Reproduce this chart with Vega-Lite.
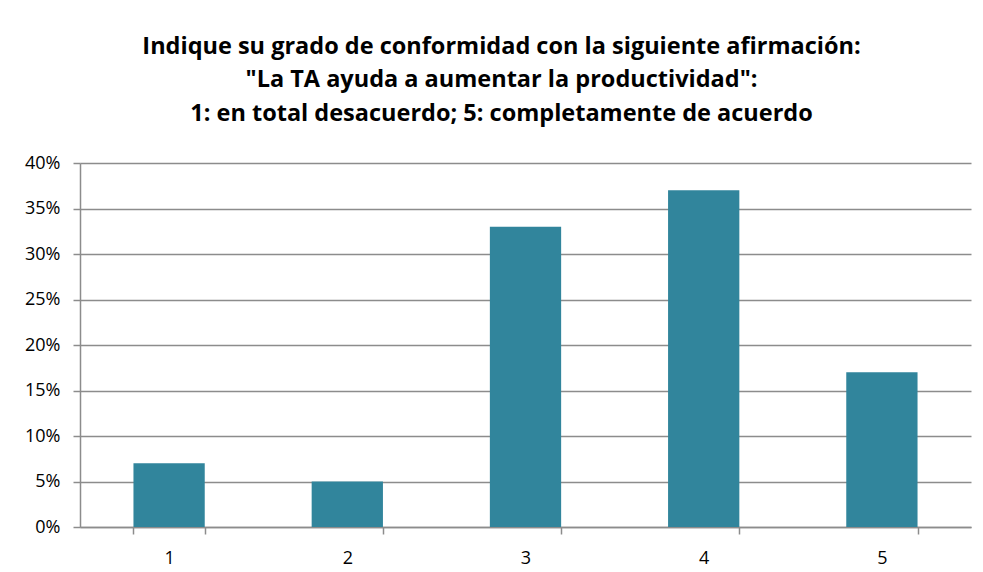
{
  "$schema": "https://vega.github.io/schema/vega-lite/v6.json",
  "autosize": {"type": "none"},
  "width": 891,
  "height": 364,
  "padding": {"left": 80, "top": 163, "right": 12, "bottom": 45},
  "background": "white",
  "title": {
    "text": ["Indique su grado de conformidad con la siguiente afirmación:", "\"La TA ayuda a aumentar la productividad\":", "1: en total desacuerdo; 5: completamente de acuerdo"],
    "font": "Open Sans",
    "fontSize": 23.5,
    "fontWeight": "bold",
    "color": "#000000",
    "lineHeight": 33.5,
    "anchor": "middle",
    "dx": -24,
    "offset": 29
  },
  "data": {
    "values": [
      {"cat": "1", "pct": 0.07},
      {"cat": "2", "pct": 0.05},
      {"cat": "3", "pct": 0.33},
      {"cat": "4", "pct": 0.37},
      {"cat": "5", "pct": 0.17}
    ]
  },
  "mark": {"type": "bar", "color": "#31859C"},
  "encoding": {
    "x": {
      "field": "cat",
      "type": "ordinal",
      "sort": null,
      "scale": {"paddingInner": 0.6, "paddingOuter": 0.3},
      "axis": {
        "title": null,
        "labelAngle": 0,
        "tickBand": "extent",
        "ticks": true,
        "tickSize": 7,
        "tickColor": "#8c8c8c",
        "tickWidth": 1.5,
        "domainColor": "#8c8c8c",
        "domainWidth": 1.5,
        "labelFont": "Open Sans",
        "labelFontSize": 18,
        "labelColor": "#000000",
        "labelPadding": 15,
        "grid": false
      }
    },
    "y": {
      "field": "pct",
      "type": "quantitative",
      "scale": {"domain": [0, 0.4], "nice": false},
      "axis": {
        "title": null,
        "format": ".0%",
        "values": [0, 0.05, 0.1, 0.15, 0.2, 0.25, 0.3, 0.35, 0.4],
        "tickSize": 7,
        "tickColor": "#8c8c8c",
        "tickWidth": 1.5,
        "domainColor": "#8c8c8c",
        "domainWidth": 1.5,
        "grid": true,
        "gridColor": "#8c8c8c",
        "gridWidth": 1.5,
        "labelFont": "Open Sans",
        "labelFontSize": 18,
        "labelColor": "#000000",
        "labelPadding": 13
      }
    }
  },
  "config": {
    "view": {"stroke": null}
  }
}
